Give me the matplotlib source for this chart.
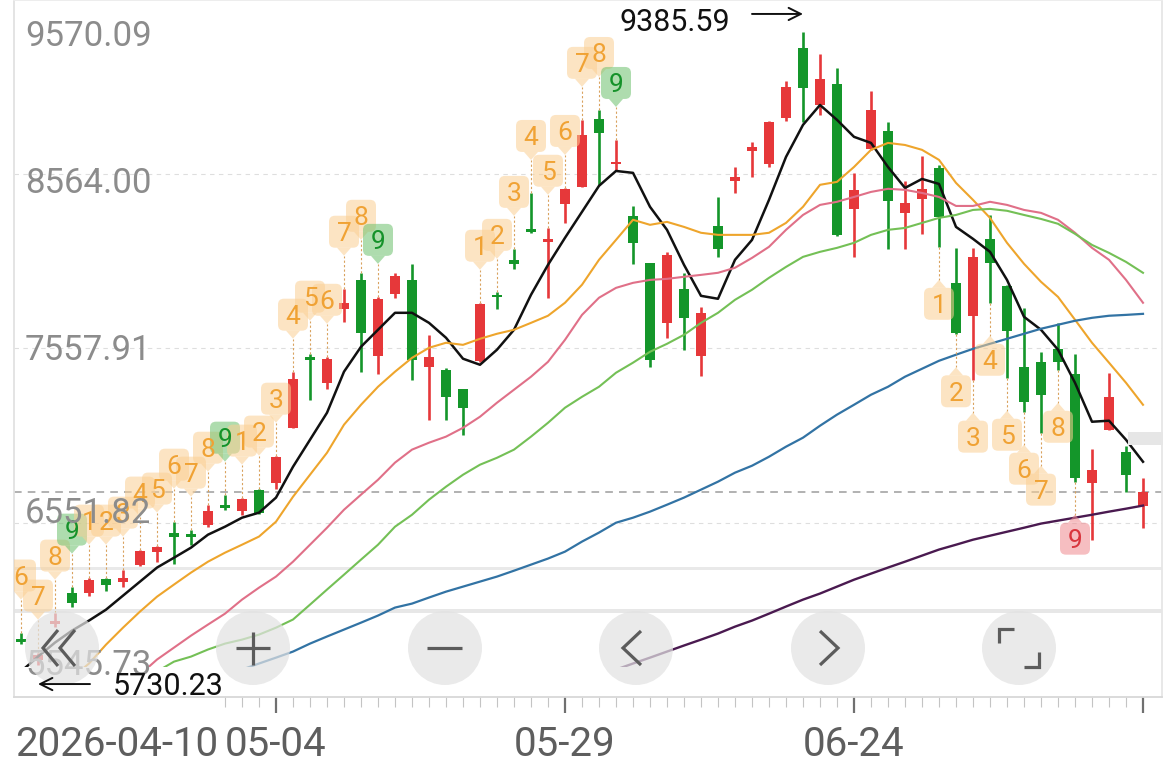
import numpy as np
import matplotlib
matplotlib.use("Agg")
import matplotlib.pyplot as plt
from matplotlib.patches import FancyBboxPatch, Polygon, Rectangle, Circle
from matplotlib.transforms import ScaledTranslation

plt.rcParams['font.family'] = ['Roboto', 'DejaVu Sans']

# ---------------- data ----------------
open_ = np.array([5883, 5762, 5970, 6149, 6149, 6229, 6212, 6310, 6385, 6495,
                  6489, 6541, 6651, 6622, 6743, 6783, 7101, 7510, 7360, 7787,
                  7955, 7516, 7874, 7955, 7453, 7435, 7326, 7487, 7868, 8070,
                  8249, 8174, 8393, 8491, 8883, 8624, 8324, 8052, 7706, 7903,
                  7516, 8266, 8526, 8699, 8624, 8889, 9293, 8964, 9085, 8364,
                  8710, 8814, 8341, 8422, 8601, 7937, 7747, 8191, 7920, 7453,
                  7481, 7556, 7412, 6783, 7089, 6962, 6651], dtype=float)
high = np.array([5918, 5802, 6033, 6183, 6235, 6235, 6281, 6397, 6420, 6558,
                 6512, 6656, 6714, 6697, 6749, 6939, 7424, 7528, 7510, 7903,
                 7995, 7856, 7995, 8047, 7637, 7447, 7326, 7822, 7885, 8133,
                 8456, 8255, 8485, 8878, 8935, 8762, 8381, 8052, 8116, 7995,
                 7799, 8433, 8606, 8751, 8872, 9103, 9385.59, 9258, 9178, 8572,
                 9045, 8866, 8526, 8670, 8618, 8139, 8139, 8330, 7926, 7793,
                 7539, 7706, 7528, 6979, 7418, 6997, 6812], dtype=float)
low = np.array([5854, 5730.23, 5952, 6068, 6131, 6160, 6183, 6304, 6327, 6316,
                6425, 6529, 6627, 6599, 6604, 6749, 7101, 7262, 7326, 7712,
                7424, 7412, 7851, 7378, 7147, 7147, 7060, 7481, 7787, 8018,
                8226, 7851, 8283, 8491, 8503, 8583, 8047, 7453, 7620, 7550,
                7400, 8087, 8456, 8549, 8606, 8872, 8866, 8906, 8205, 8087,
                8705, 8133, 8133, 8220, 8145, 7640, 7378, 7822, 7389, 7193,
                7072, 7435, 6789, 6454, 7089, 6731, 6524], dtype=float)
close = np.array([5866, 5791, 5981, 6091, 6223, 6195, 6235, 6391, 6414, 6472,
                  6472, 6622, 6639, 6691, 6610, 6933, 7383, 7493, 7499, 7822,
                  7649, 7845, 7978, 7493, 7510, 7279, 7216, 7816, 7856, 8047,
                  8231, 8191, 8480, 8791, 8803, 8635, 8168, 7493, 8099, 7735,
                  7764, 8133, 8549, 8722, 8866, 9068, 9062, 9114, 8214, 8474,
                  8935, 8410, 8399, 8480, 8318, 7649, 8087, 8053, 7660, 7251,
                  7291, 7481, 6812, 6858, 7279, 6829, 6731], dtype=float)

ma5 = np.array([5693, 5779, 5860, 5929, 5987, 6050, 6131, 6212, 6293, 6350,
                6408, 6483, 6529, 6581, 6610, 6697, 6875, 7031, 7187, 7424,
                7568, 7666, 7764, 7764, 7706, 7620, 7499, 7464, 7551, 7666,
                7868, 8041, 8197, 8347, 8497, 8583, 8572, 8376, 8243, 8041,
                7862, 7845, 8070, 8185, 8416, 8664, 8849, 8964, 8878, 8780,
                8745, 8606, 8485, 8537, 8508, 8260, 8191, 8116, 7954, 7741,
                7666, 7551, 7360, 7135, 7141, 7031, 6904], dtype=float)
ma10 = np.r_[[np.nan] * 3,
             [5658, 5739, 5848, 5946, 6039, 6125, 6195, 6264, 6327, 6379,
              6425, 6472, 6558, 6702, 6829, 6956, 7118, 7233, 7337, 7424,
              7504, 7562, 7591, 7579, 7614, 7643, 7666, 7706, 7747, 7822,
              7926, 8070, 8185, 8301, 8272, 8289, 8260, 8226, 8214, 8214,
              8214, 8226, 8283, 8376, 8503, 8520, 8606, 8705, 8745, 8733,
              8705, 8647, 8514, 8416, 8312, 8168, 8047, 7943, 7856, 7724,
              7591, 7476, 7360, 7233]]
ma20 = np.r_[[np.nan] * 7,
             [5675, 5762, 5831, 5900, 5964, 6027, 6108, 6177, 6241, 6327,
              6425, 6523, 6627, 6714, 6800, 6899, 6974, 7014, 7049, 7100,
              7164, 7245, 7320, 7395, 7481, 7608, 7752, 7851, 7908, 7937,
              7954, 7960, 7972, 7983, 7995, 8024, 8081, 8145, 8243, 8329,
              8387, 8405, 8433, 8462, 8480, 8474, 8456, 8433, 8381, 8381,
              8405, 8387, 8358, 8341, 8301, 8226, 8139, 8070, 7954, 7822]]
ma30 = np.r_[[np.nan] * 8,
             [5693, 5750, 5779, 5820, 5854, 5877, 5906, 5946, 5993, 6079,
              6166, 6252, 6339, 6425, 6529, 6598, 6685, 6760, 6829, 6887,
              6927, 6974, 7049, 7129, 7216, 7279, 7337, 7418, 7476, 7539,
              7585, 7637, 7706, 7764, 7839, 7897, 7966, 8029, 8087, 8116,
              8139, 8168, 8214, 8243, 8254, 8283, 8312, 8329, 8358, 8364,
              8353, 8329, 8306, 8278, 8220, 8156, 8110, 8058, 7995]]
ma60 = np.r_[[np.nan] * 13,
             [5704, 5739, 5773, 5808, 5854, 5895, 5935, 5975, 6016, 6062,
              6085, 6120, 6154, 6183, 6212, 6241, 6275, 6310, 6345, 6385,
              6443, 6495, 6552, 6581, 6616, 6656, 6697, 6743, 6789, 6841,
              6881, 6933, 6991, 7043, 7112, 7176, 7233, 7291, 7337, 7395,
              7441, 7487, 7522, 7556, 7585, 7614, 7643, 7672, 7695, 7718,
              7735, 7747, 7752, 7758]]
ma120 = np.r_[[np.nan] * 35,
              [5704, 5739, 5773, 5808, 5843, 5877, 5912, 5952, 5987, 6027,
               6068, 6108, 6143, 6183, 6223, 6258, 6293, 6327, 6362, 6397,
               6425, 6454, 6477, 6500, 6523, 6547, 6564, 6581, 6598, 6616,
               6633, 6651]]

y_ticks = [9570.09, 8564.00, 7557.91, 6551.82, 5545.73]
date_idx = [0, 15, 32, 49]
date_txt = ["2026-04-10", "05-04", "05-29", "06-24"]
major_idx = [15, 32, 49, 66]

td_top_idx = list(range(0, 22)) + list(range(27, 36))
td_top_num = [6, 7, 8, 9, 1, 2, 3, 4, 5, 6, 7, 8, 9, 1, 2, 3, 4, 5, 6, 7, 8, 9,
              1, 2, 3, 4, 5, 6, 7, 8, 9]
td_bot_idx = list(range(54, 63))
td_bot_num = [1, 2, 3, 4, 5, 6, 7, 8, 9]

# ---------------- styles ----------------
RED, GREEN = '#e6383a', '#14962a'
MA_STYLE = [(ma5, '#111111', 1.8), (ma10, '#eea52c', 1.5), (ma20, '#e07088', 1.5),
            (ma30, '#74c056', 1.5), (ma60, '#3273a4', 1.6), (ma120, '#4a1a50', 1.7)]
W, HH = 1176, 770
PX = 1 / 100.0

fig = plt.figure(figsize=(W / 100, HH / 100), dpi=100)
fig.patch.set_facecolor('white')
ax = fig.add_axes([14 / W, (HH - 697) / HH, (1162 - 14) / W, 697 / HH])
ax.set_facecolor('white')
x = np.arange(len(close))
XL = (-7 / 17, (1162 - 21) / 17)
YL = (y_ticks[-1], y_ticks[0])

# grid + price line
for v in y_ticks[1:-1]:
    ax.axhline(v, color='#dedede', lw=0.8, ls=(0, (4, 4)), zorder=1)
ax.axhline(close[-1], color='#9c9c9c', lw=1.1, ls=(0, (5, 4)), zorder=1.5)

# light UI bands
ax.add_patch(Rectangle((0, (697 - 570) / 697), 1, 3 / 697, transform=ax.transAxes,
                       color='#e9e9e9', lw=0, zorder=0.5))
ax.add_patch(Rectangle((0, (697 - 613) / 697), 1, 4 / 697, transform=ax.transAxes,
                       color='#e7e7e7', lw=0, zorder=0.5))

# candles
up = close >= open_
cols = np.where(up, RED, GREEN)
ax.vlines(x, low, high, colors=cols, lw=1.9, zorder=3)
bh = np.maximum(np.abs(close - open_), 14)
mid = (close + open_) / 2
ax.bar(x, bh, bottom=mid - bh / 2, width=0.64, color=cols, lw=0, zorder=3.1)

# moving averages
clip = Rectangle((-5, low.min() - 10), 90, 9000, transform=ax.transData)
for arr, c, lw in MA_STYLE:
    ln, = ax.plot(x, arr, color=c, lw=lw, zorder=4, solid_joinstyle='round')
    ln.set_clip_path(clip)


# TD sequence labels
def td_label(i, price, num, above, kind):
    d = 1 if above else -1
    tr = fig.dpi_scale_trans + ScaledTranslation(i, price, ax.transData)
    cy = d * 57
    if kind == 'o':
        face, tc = '#fbcf93', '#f0a234'
    elif kind == 'g':
        face, tc = '#6cc06c', '#15922a'
    else:
        face, tc = '#f08a8f', '#d9363e'
    ax.add_patch(FancyBboxPatch((-15 * PX, (cy - 16) * PX), 30 * PX, 32 * PX,
                                boxstyle=f"round,pad=0,rounding_size={6 * PX}",
                                transform=tr, fc=face, ec='none', alpha=0.55, zorder=5))
    edge = cy - d * 16
    tip = cy - d * 24
    ax.add_patch(Polygon([(-7 * PX, edge * PX), (7 * PX, edge * PX), (0, tip * PX)],
                         closed=True, transform=tr, fc=face, ec='none', alpha=0.55, zorder=5))
    ax.plot([0, 0], [0, tip * PX], transform=tr, color='#d9a25e', lw=0.8,
            ls=(0, (2, 2)), zorder=4.5)
    ax.text(0, cy * PX, str(num), transform=tr, ha='center', va='center_baseline',
            fontsize=19, color=tc, zorder=6)


for i, n in zip(td_top_idx, td_top_num):
    td_label(i, high[i], n, True, 'g' if n == 9 else 'o')
for i, n in zip(td_bot_idx, td_bot_num):
    td_label(i, low[i], n, False, 'r' if n == 9 else 'o')

# y labels
label_dy = [-33, -6, 1, 13, 35]
for v, dy in zip(y_ticks, label_dy):
    ax.annotate(f"{v:.2f}", xy=(0, v), xycoords=('axes fraction', 'data'),
                xytext=(11, dy), textcoords='offset pixels', ha='left',
                va='center_baseline', fontsize=25, color='#8c8c8c', zorder=7,
                annotation_clip=False)

# max annotation
imax = int(np.argmax(high))
trans_up = ax.transData + ScaledTranslation(0, 18 * PX, fig.dpi_scale_trans)
ax.annotate('', xy=(imax, high[imax]), xycoords=trans_up, xytext=(-51, 0),
            textcoords='offset pixels', annotation_clip=False,
            arrowprops=dict(arrowstyle='->', color='#111111', lw=1.4,
                            shrinkA=0, shrinkB=0, mutation_scale=22))
ax.annotate(f"{high[imax]:.2f}", xy=(imax, high[imax]), xycoords=trans_up,
            xytext=(-73, -6), textcoords='offset pixels', ha='right',
            va='center_baseline', fontsize=22, color='#111111', zorder=8,
            annotation_clip=False)

# date labels / ticks
for i, t in zip(date_idx, date_txt):
    ax.annotate(t, xy=(i, 0), xycoords=('data', 'axes fraction'),
                xytext=(-6 if i == 0 else 0, -43), textcoords='offset pixels',
                ha='left' if i == 0 else 'center', va='center_baseline',
                fontsize=29, color='#5e5e5e', annotation_clip=False)
ax.set_xticks(major_idx)
ax.set_xticks(range(12, len(close)), minor=True)
ax.tick_params(axis='x', which='major', length=11.5, width=1.6, color='#707070',
               labelbottom=False, direction='out')
ax.tick_params(axis='x', which='minor', length=7, width=0.8, color='#c4c4c4',
               direction='out')
ax.set_yticks([])
for s, c in [('left', '#e2e2e2'), ('bottom', '#d8d8d8'), ('top', '#ececec'),
             ('right', '#e6e6e6')]:
    ax.spines[s].set_color(c)
    ax.spines[s].set_linewidth(1.3)

ax.set_xlim(*XL)
ax.set_ylim(*YL)

# ---------------- overlay (buttons) ----------------
ov = fig.add_axes([0, 0, 1, 1], zorder=10)
ov.set_xlim(0, W)
ov.set_ylim(HH, 0)
ov.axis('off')
ov.patch.set_alpha(0)

for cx in [62, 253, 445, 636, 828, 1019]:
    ov.add_patch(Circle((cx, 648), 37, color='#e2e2e2', alpha=0.72, lw=0))
ic = dict(color='#5c5c5c', lw=2.3, solid_capstyle='butt', solid_joinstyle='miter')
ov.plot([58, 43, 58], [630, 648, 666], **ic)
ov.plot([75, 60, 75], [630, 648, 666], **ic)
ov.plot([236, 270], [648, 648], **ic)
ov.plot([253, 253], [632, 665], **ic)
ov.plot([427, 462], [648, 648], **ic)
ov.plot([641, 623, 641], [631, 648, 665], **ic)
ov.plot([820, 838, 820], [631, 648, 665], **ic)
ov.plot([999, 999, 1014], [643, 629, 629], **ic)
ov.plot([1024, 1039, 1039], [667, 667, 652], **ic)
ov.add_patch(Rectangle((1128, 432), 35, 13, color='#e6e6e6', lw=0))

# min annotation (on top)
imin = int(np.argmin(low))
trans_dn = ax.transData + ScaledTranslation(0, -19 * PX, fig.dpi_scale_trans)
ov.annotate('', xy=(imin, low[imin]), xycoords=trans_dn, xytext=(52, 0),
            textcoords='offset pixels', annotation_clip=False,
            arrowprops=dict(arrowstyle='->', color='#111111', lw=1.4,
                            shrinkA=0, shrinkB=0, mutation_scale=22))
ov.annotate(f"{low[imin]:.2f}", xy=(imin, low[imin]), xycoords=trans_dn,
            xytext=(75, 1), textcoords='offset pixels', ha='left',
            va='center_baseline', fontsize=22, color='#111111',
            annotation_clip=False)

fig.savefig('out.png', dpi=100, facecolor='white')
